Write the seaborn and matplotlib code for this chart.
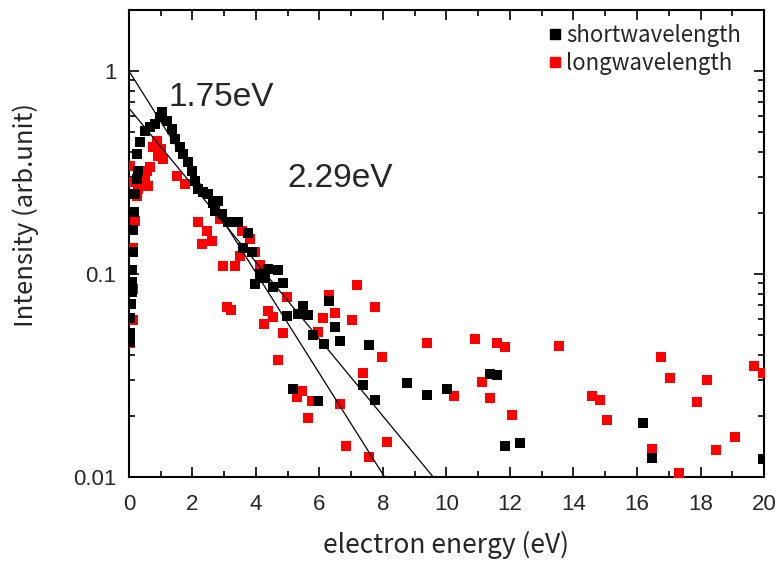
import numpy as np
import pandas as pd
import matplotlib
matplotlib.use("Agg")
import matplotlib.pyplot as plt
import seaborn as sns
from matplotlib.ticker import FixedLocator, FixedFormatter, LogLocator, MultipleLocator, NullFormatter
from matplotlib.lines import Line2D

# ---------------- data ----------------
short_E = [0.03, 0.03, 0.03, 0.06, 0.09, 0.09, 0.09, 0.13, 0.13, 0.16, 0.19, 0.25, 0.28, 0.24,
           0.35, 0.50, 0.66, 0.82, 0.98, 1.04, 1.20, 1.35, 1.45, 1.61, 1.70, 1.86, 1.98, 2.08,
           2.17, 2.33, 2.49, 2.65, 2.80, 2.71, 2.93, 3.12, 3.28, 3.43, 3.59, 3.75, 3.87, 3.97,
           4.13, 4.28, 4.38, 4.69, 4.54, 4.85, 4.98, 5.32, 5.48, 5.64, 5.17, 5.95, 5.80, 6.14,
           6.30, 6.49, 6.65, 7.37, 7.56, 7.75, 8.76, 9.39, 10.02, 11.37, 11.59, 11.84, 12.31,
           16.19, 16.47, 19.97]
short_I = [0.046, 0.051, 0.061, 0.071, 0.082, 0.091, 0.105, 0.128, 0.165, 0.201, 0.247, 0.293,
           0.321, 0.389, 0.446, 0.506, 0.529, 0.547, 0.593, 0.627, 0.566, 0.517, 0.462, 0.421,
           0.389, 0.355, 0.321, 0.286, 0.261, 0.253, 0.247, 0.225, 0.228, 0.204, 0.197, 0.180,
           0.180, 0.180, 0.134, 0.160, 0.129, 0.089, 0.0995, 0.096, 0.106, 0.105, 0.086, 0.090,
           0.0624, 0.0638, 0.0699, 0.0631, 0.0272, 0.0237, 0.0503, 0.0454, 0.0740, 0.0550,
           0.0470, 0.0285, 0.0449, 0.0240, 0.0291, 0.0254, 0.0272, 0.0323, 0.0319, 0.0142,
           0.0147, 0.0185, 0.0124, 0.0123]

long_E = [0.03, 0.03, 0.09, 0.13, 0.13, 0.13, 0.19, 0.28, 0.25, 0.50, 0.57, 0.60, 0.66, 0.76,
          0.88, 0.91, 1.07, 1.00, 1.51, 1.76, 2.17, 2.46, 2.30, 2.61, 2.87, 2.96, 3.34, 3.50,
          3.56, 3.81, 3.97, 4.13, 3.09, 3.21, 4.25, 4.38, 4.54, 4.69, 4.85, 4.98, 5.29, 5.45,
          5.64, 5.76, 5.95, 6.11, 6.30, 6.49, 6.65, 6.83, 7.02, 7.18, 7.37, 7.56, 7.75, 7.97,
          8.13, 9.39, 10.24, 10.90, 11.12, 11.37, 11.59, 11.84, 12.06, 13.54, 14.58, 14.83,
          15.06, 16.47, 16.76, 17.04, 17.32, 17.89, 18.20, 18.49, 19.09, 19.69, 19.97]
long_I = [0.340, 0.0459, 0.283, 0.135, 0.0848, 0.0596, 0.182, 0.261, 0.241, 0.293, 0.321,
          0.271, 0.336, 0.421, 0.451, 0.380, 0.367, 0.412, 0.303, 0.277, 0.180, 0.162, 0.140,
          0.145, 0.186, 0.109, 0.110, 0.122, 0.162, 0.148, 0.128, 0.111, 0.0684, 0.0668,
          0.0570, 0.0660, 0.0617, 0.0378, 0.0514, 0.0774, 0.0248, 0.0266, 0.0196, 0.0237,
          0.0520, 0.0610, 0.0792, 0.0646, 0.0229, 0.0142, 0.0596, 0.0887, 0.0327, 0.0126,
          0.0691, 0.0392, 0.0149, 0.0459, 0.0251, 0.0480, 0.0294, 0.0246, 0.0459, 0.0438,
          0.0202, 0.0444, 0.0251, 0.0240, 0.0191, 0.0137, 0.0392, 0.0308, 0.0105, 0.0235,
          0.0301, 0.0136, 0.0158, 0.0354, 0.0327]

# exponential fit lines (straight on the log axis), end points
fit175_E = [0.0, 8.05]
fit175_I = [1.0, 0.01]
fit229_E = [0.0, 9.58]
fit229_I = [0.656, 0.01]

series_names = ["shortwavelength", "longwavelength"]
fit_labels = ["1.75eV", "2.29eV"]
x_ticks = [0, 2, 4, 6, 8, 10, 12, 14, 16, 18, 20]
y_ticks = [0.01, 0.1, 1]
y_ticklabels = ["0.01", "0.1", "1"]

# ---------------- plotting ----------------
sns.set_style("ticks")
plt.rcParams["font.family"] = ["Liberation Sans", "DejaVu Sans"]

fig = plt.figure(figsize=(7.84, 5.63), dpi=100)
ax = fig.add_axes([0.1645, 0.1528, 0.810, 0.8295])
ax.set_yscale("log")

df_short = pd.DataFrame({"E": short_E, "I": short_I})
df_long = pd.DataFrame({"E": long_E, "I": long_I})

sns.scatterplot(data=df_long, x="E", y="I", color="#ff0000", marker="s", s=52,
                linewidth=0, ax=ax, legend=False, zorder=3)
sns.scatterplot(data=df_short, x="E", y="I", color="black", marker="s", s=52,
                linewidth=0, ax=ax, legend=False, zorder=4)

sns.lineplot(x=fit175_E, y=fit175_I, color="black", linewidth=0.9, ax=ax, legend=False, zorder=5)
sns.lineplot(x=fit229_E, y=fit229_I, color="black", linewidth=0.9, ax=ax, legend=False, zorder=5)

ax.set_xlim(0, 20)
ax.set_ylim(0.01, 2.0)

ax.xaxis.set_major_locator(FixedLocator(x_ticks))
ax.xaxis.set_minor_locator(MultipleLocator(1))
ax.yaxis.set_major_locator(FixedLocator(y_ticks))
ax.yaxis.set_major_formatter(FixedFormatter(y_ticklabels))
ax.yaxis.set_minor_locator(LogLocator(base=10, subs=np.arange(2, 10)))
ax.yaxis.set_minor_formatter(NullFormatter())

for sp in ax.spines.values():
    sp.set_linewidth(1.5)
    sp.set_color("black")
ax.tick_params(which="both", direction="in", top=True, right=True, width=1.2, color="black")
ax.tick_params(which="major", length=7, labelsize=16, pad=9)
ax.tick_params(axis="x", which="major", pad=12)
ax.tick_params(which="minor", length=4)

cjk = ["Noto Sans CJK JP", "DejaVu Sans"]
ax.set_xlabel("electron energy (eV)", fontsize=19, family=cjk, labelpad=12)
ax.set_ylabel("Intensity (arb.unit)", fontsize=18.5, family=cjk)
ax.yaxis.set_label_coords(-0.142, 0.56)

ax.text(1.23, 0.74, fit_labels[0], fontsize=24, ha="left", va="center")
ax.text(5.0, 0.295, fit_labels[1], fontsize=24, ha="left", va="center")

handles = [Line2D([], [], ls="none", marker="s", markersize=7, color="black"),
           Line2D([], [], ls="none", marker="s", markersize=7, color="#ff0000")]
ax.legend(handles, series_names, loc="upper right", bbox_to_anchor=(0.978, 0.99),
          frameon=False, prop={"family": cjk, "size": 16}, handletextpad=0.2,
          handlelength=0.6, borderaxespad=0.0, labelspacing=0.25)

fig.savefig("out.png", dpi=100)
